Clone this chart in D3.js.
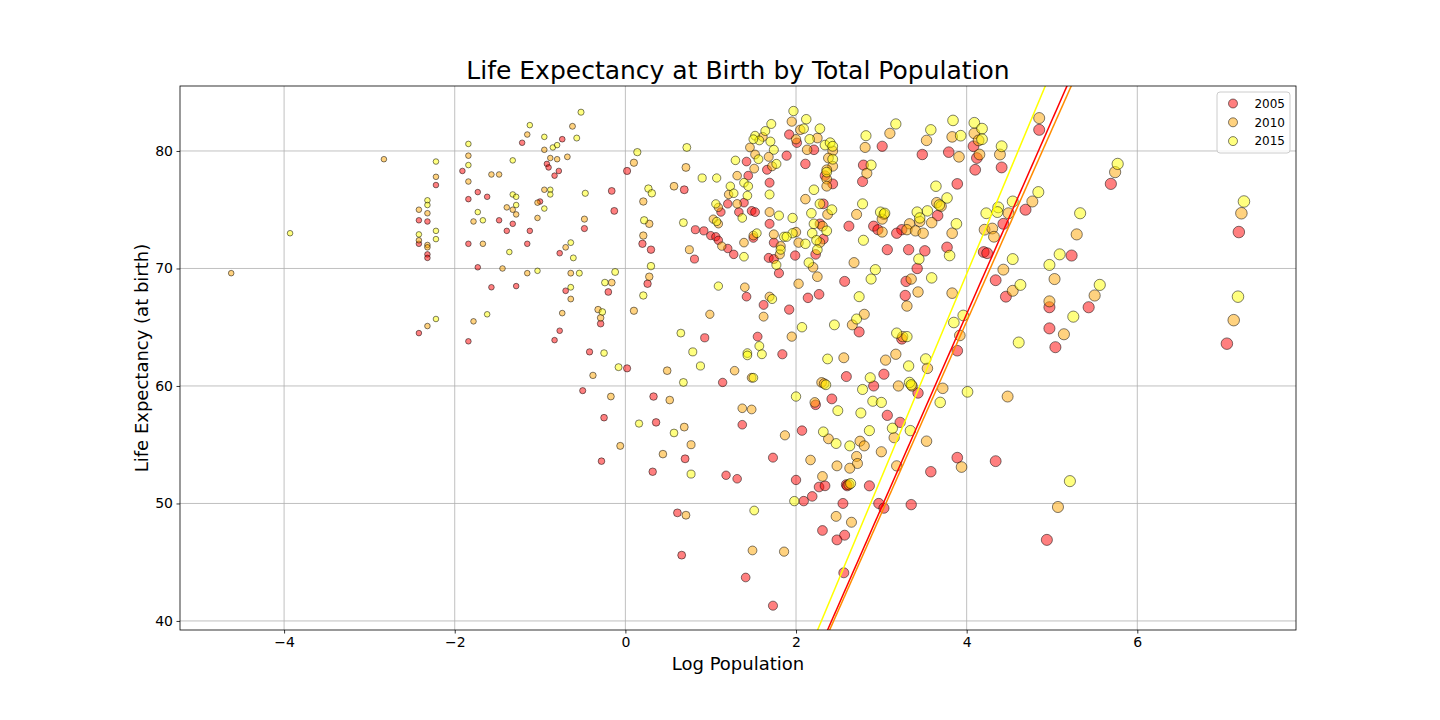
<!DOCTYPE html>
<html>
<head>
<meta charset="utf-8">
<script src="https://cdn.jsdelivr.net/npm/d3@7"></script>
<style>
  body { margin: 0; background: #fff; }
  svg { font-family: "DejaVu Sans", sans-serif; }
  .grid line { stroke: #b0b0b0; stroke-width: 0.8; }
  .tick text { fill: #000; }
</style>
</head>
<body>
<svg id="chart" width="1440" height="720"></svg>
<script>
// log population vs life expectancy, one list of [x, y] per year
var years = ['2005', '2010', '2015'];
var colors = ['red', 'orange', 'yellow'];
var lineColors = ['#ff0000', '#ff8c00', '#ffff00'];

var pts2005 = [
  [-2.22,77.1],[-2.42,74.1],[-2.32,74.0],[-2.42,72.1],[-2.32,71.2],[-2.32,70.9],[-2.42,64.5],[-1.91,78.3],[-1.73,76.5],[-1.84,75.9],
  [-1.84,72.1],[-1.73,70.1],[-1.84,63.8],[-1.62,76.1],[-1.48,74.1],[-1.39,73.2],[-1.32,73.8],[-1.21,80.7],[-1.12,73.2],[-1.15,72.1],
  [-1.57,68.4],[-1.28,68.5],[-0.74,81.0],[-0.92,78.9],[-0.90,78.6],[-0.78,78.3],[-0.83,77.9],[-1.00,75.7],[-0.16,76.6],[-0.13,74.9],
  [-0.48,73.4],[-0.77,71.3],[-0.70,68.1],[-0.20,68.0],[-0.29,65.3],[-0.77,64.7],[-0.83,63.9],[-0.42,62.9],[0.02,78.3],[0.69,76.7],
  [0.20,72.1],[0.30,71.6],[0.81,70.8],[0.82,73.3],[0.92,73.2],[1.00,72.8],[0.26,68.7],[0.93,64.1],[1.20,75.5],[1.12,74.8],
  [1.33,74.8],[1.06,72.7],[1.09,72.4],[1.20,71.7],[1.27,71.2],[1.92,81.4],[2.01,80.7],[1.89,79.6],[2.21,80.1],[2.34,77.9],
  [2.43,77.2],[2.11,78.9],[1.42,79.1],[1.66,78.4],[1.44,77.9],[1.69,77.3],[1.39,75.6],[1.48,74.9],[1.52,74.8],[1.69,73.8],
  [2.32,75.5],[2.28,73.8],[2.32,72.5],[2.23,71.2],[1.74,72.2],[1.68,70.9],[1.74,70.8],[1.99,71.1],[1.80,69.6],[1.50,72.6],
  [1.42,67.6],[1.62,66.9],[1.92,66.5],[2.14,67.5],[2.27,67.8],[1.55,64.2],[1.84,62.7],[3.01,80.4],[2.79,78.8],[2.78,77.4],
  [3.48,79.7],[3.79,79.9],[3.89,77.2],[3.66,74.5],[3.77,71.8],[3.24,73.3],[3.18,73.0],[2.91,73.6],[2.96,73.3],[2.62,73.6],
  [3.07,71.6],[3.32,71.6],[3.51,71.5],[3.42,70.0],[2.57,68.9],[3.29,68.9],[3.28,67.7],[2.74,64.6],[3.24,64.0],[3.89,63.0],
  [4.08,80.4],[4.12,79.4],[4.10,78.4],[4.41,78.6],[4.69,75.0],[4.43,73.8],[4.20,71.4],[4.24,71.3],[4.34,69.0],[4.46,67.6],
  [4.85,81.8],[5.69,77.2],[5.23,71.1],[5.43,66.7],[4.97,66.7],[4.97,64.9],[5.04,63.3],[7.19,73.1],[7.05,63.6],[0.02,61.5],
  [-0.50,59.6],[-0.25,57.3],[-0.28,53.6],[1.14,60.3],[0.33,59.1],[0.36,56.9],[1.37,56.7],[0.70,53.8],[0.32,52.7],[1.18,52.4],
  [1.31,52.1],[0.61,49.2],[0.66,45.6],[1.41,43.7],[2.59,60.8],[2.23,58.4],[2.42,58.9],[2.07,56.2],[1.73,53.9],[2.00,52.0],
  [2.27,51.4],[2.34,51.5],[2.59,51.6],[2.60,51.5],[2.86,51.5],[2.19,50.6],[2.09,50.2],[2.55,50.0],[2.31,47.7],[2.48,46.9],
  [2.57,47.3],[2.56,44.1],[1.73,41.3],[3.03,61.0],[2.91,60.0],[3.43,59.4],[3.07,57.5],[3.22,56.9],[3.89,53.9],[4.34,53.6],
  [3.58,52.7],[2.97,50.0],[3.03,49.6],[3.35,49.9],[4.94,46.9]
];

var pts2010 = [
  [-4.62,69.6],[-2.83,79.3],[-2.22,77.8],[-2.42,75.0],[-2.32,74.7],[-2.42,72.4],[-2.32,72.0],[-2.32,71.8],[-2.32,65.1],[-1.84,79.6],
  [-1.84,77.4],[-1.78,74.0],[-1.78,65.5],[-1.57,78.0],[-1.48,78.0],[-1.39,75.2],[-1.32,75.0],[-1.28,74.6],[-1.15,81.4],[-1.67,72.1],
  [-1.44,70.0],[-1.15,69.6],[-0.95,80.1],[-0.62,82.1],[-0.88,79.4],[-0.80,79.3],[-0.68,79.5],[-0.95,76.7],[-1.03,75.6],[-1.03,74.3],
  [-0.48,74.2],[-0.70,71.8],[-0.64,69.6],[-0.64,67.4],[-0.16,68.8],[-0.74,66.2],[-0.32,66.5],[-0.29,65.8],[0.10,79.0],[0.71,78.6],
  [0.57,77.0],[0.21,75.7],[0.28,73.8],[0.21,72.8],[0.75,71.6],[0.28,69.3],[0.10,66.4],[0.99,66.1],[1.31,77.9],[1.21,76.3],
  [1.09,75.2],[1.31,75.5],[1.03,74.2],[1.09,73.8],[1.13,71.9],[1.95,82.5],[2.05,81.8],[1.61,81.2],[2.00,81.0],[2.25,81.1],
  [1.46,80.3],[2.13,80.1],[2.43,80.0],[2.38,79.4],[2.43,78.7],[2.36,78.4],[2.36,77.6],[2.36,77.0],[1.52,79.7],[1.68,79.5],
  [1.72,78.7],[1.51,78.5],[1.69,74.8],[2.11,75.9],[2.37,74.6],[2.31,73.6],[2.28,72.2],[2.20,70.1],[2.00,73.1],[1.74,72.9],
  [1.82,71.9],[1.81,71.2],[2.03,72.2],[2.25,69.3],[1.50,72.8],[1.39,72.2],[1.40,68.4],[1.69,67.6],[1.62,65.9],[2.03,68.7],
  [1.95,64.2],[2.81,80.3],[3.10,81.5],[2.83,78.1],[3.53,80.9],[3.83,81.2],[3.91,79.5],[3.65,75.6],[3.70,75.3],[3.59,73.9],
  [3.83,73.0],[3.45,74.0],[3.33,73.8],[3.30,73.3],[3.40,73.2],[3.49,73.0],[3.03,74.6],[3.01,74.2],[3.01,73.1],[2.71,74.6],
  [2.68,70.5],[3.35,69.1],[3.43,68.0],[3.30,66.8],[3.83,67.9],[2.80,66.1],[2.66,65.2],[3.25,64.2],[3.92,64.3],[4.09,81.5],
  [4.14,80.9],[4.15,79.7],[4.39,79.7],[4.77,75.7],[4.49,74.7],[4.21,73.3],[4.30,73.4],[4.32,72.7],[4.43,69.9],[4.54,68.1],
  [4.85,82.8],[5.74,78.2],[5.29,72.9],[5.03,69.1],[5.50,67.7],[4.97,67.2],[5.14,64.4],[7.22,74.7],[7.13,65.6],[-0.38,60.9],
  [-0.17,59.1],[-0.06,54.9],[0.49,61.3],[1.28,61.3],[1.48,60.7],[0.52,58.8],[0.69,56.5],[1.37,58.1],[1.48,58.0],[0.77,55.0],
  [0.44,54.2],[0.71,49.0],[1.49,46.0],[2.56,62.4],[2.30,60.3],[2.33,60.2],[2.22,58.6],[1.87,55.8],[2.38,55.5],[2.75,55.3],
  [2.80,54.9],[2.71,54.0],[2.72,53.4],[2.63,53.0],[2.48,53.2],[2.17,53.7],[2.31,52.3],[2.62,51.6],[2.47,48.9],[2.65,48.4],
  [1.86,45.9],[3.05,62.2],[3.17,62.7],[3.54,61.5],[3.20,60.0],[3.36,60.0],[3.15,55.6],[3.00,54.4],[3.18,53.2],[3.72,59.8],
  [4.48,59.1],[3.53,55.3],[3.94,53.1],[5.07,49.7]
];

var pts2015 = [
  [-3.93,73.0],[-2.22,79.1],[-2.32,75.8],[-2.32,75.4],[-2.42,72.9],[-2.22,73.2],[-2.22,72.5],[-2.22,65.7],[-1.84,80.6],[-1.84,78.8],
  [-1.73,74.8],[-1.67,74.1],[-1.32,76.3],[-1.28,76.1],[-1.28,75.4],[-1.32,79.2],[-1.12,82.2],[-1.36,71.4],[-1.03,69.8],[-1.62,66.1],
  [-0.95,81.2],[-0.85,80.3],[-0.80,80.5],[-0.57,81.1],[-0.52,83.3],[-0.88,76.7],[-0.88,76.3],[-0.95,75.1],[-0.47,76.4],[-0.64,72.2],
  [-0.61,70.9],[-0.12,69.7],[-0.54,69.6],[-0.64,68.4],[-0.24,68.8],[-0.27,66.3],[-0.25,62.8],[0.14,79.9],[0.72,80.3],[0.90,77.7],
  [1.07,77.7],[0.27,76.8],[0.31,76.4],[0.22,74.1],[0.68,73.9],[0.30,70.2],[0.21,67.7],[1.09,68.5],[0.65,64.5],[0.79,62.9],
  [1.29,79.2],[1.23,77.0],[1.27,76.4],[1.06,75.5],[1.07,74.0],[1.97,83.4],[1.71,82.3],[2.12,82.7],[2.09,81.9],[2.28,81.9],
  [1.52,81.3],[1.64,81.7],[1.57,80.9],[1.50,81.0],[1.70,80.8],[2.16,81.0],[1.74,80.1],[2.34,80.5],[2.40,80.7],[2.43,80.4],
  [2.43,79.3],[2.36,78.2],[1.56,79.3],[1.77,78.9],[1.39,77.3],[1.44,77.0],[1.69,76.3],[1.43,76.2],[1.37,74.3],[1.80,74.5],
  [1.96,74.3],[2.21,76.7],[2.28,75.5],[2.42,75.0],[2.18,74.7],[2.21,73.8],[2.19,73.0],[2.36,73.2],[2.24,72.4],[2.25,71.6],
  [2.15,70.5],[1.96,73.0],[1.86,72.7],[1.89,72.7],[1.82,71.6],[1.77,70.3],[2.11,72.1],[1.54,73.0],[1.39,71.0],[1.72,67.4],
  [2.07,65.0],[1.57,63.4],[1.43,62.8],[1.60,62.7],[2.82,81.3],[3.17,82.3],[2.88,78.8],[3.58,81.8],[3.84,82.6],[3.93,81.3],
  [3.64,77.0],[3.77,76.0],[3.88,73.8],[3.80,71.1],[3.54,74.9],[3.42,74.8],[3.45,74.3],[2.99,74.8],[3.04,74.7],[2.78,75.5],
  [2.79,72.4],[3.44,70.8],[2.93,69.9],[2.88,69.1],[3.59,69.2],[2.74,67.6],[2.71,65.7],[2.45,65.2],[3.18,64.5],[3.30,64.2],
  [3.96,66.0],[3.85,65.4],[3.68,75.4],[4.09,82.4],[4.18,81.9],[4.18,81.0],[4.41,80.4],[4.84,76.5],[4.54,75.7],[4.37,75.2],
  [4.36,74.8],[4.23,74.7],[4.54,70.8],[4.63,68.6],[4.61,63.7],[5.77,78.9],[5.33,74.7],[5.09,71.2],[4.97,70.3],[5.56,68.6],
  [5.25,65.9],[7.25,75.7],[7.18,67.6],[-0.08,61.6],[0.88,61.7],[0.68,60.3],[1.43,62.6],[1.50,60.7],[0.16,56.8],[0.57,56.0],
  [0.77,52.5],[1.51,49.4],[2.37,62.3],[2.35,60.1],[2.00,59.1],[2.49,57.9],[2.32,56.1],[2.47,55.1],[2.63,54.9],[2.64,51.7],
  [1.98,50.2],[2.87,60.7],[2.78,59.7],[3.32,61.7],[3.52,62.3],[3.33,60.3],[3.35,60.1],[2.90,58.7],[3.00,58.6],[2.76,57.7],
  [3.13,56.4],[2.86,56.2],[3.34,56.2],[3.69,58.6],[4.01,59.5],[5.21,51.9]
];

// fitted lines y = slope * x + intercept, one per year
var slopes = [16.5, 16.35, 17.35];
var intercepts = [0.13, 0.09, 0.14];

var xTicks = [-4, -2, 0, 2, 4, 6];
var yTicks = [40, 50, 60, 70, 80];

var series = [pts2005, pts2010, pts2015];

var svg = d3.select('#chart');

var margin = {left: 180, right: 144, top: 86, bottom: 90},
    width = 1440 - margin.left - margin.right,
    height = 720 - margin.top - margin.bottom;

var x = d3.scaleLinear().domain([-5.22, 7.86]).range([0, width]);
var y = d3.scaleLinear().domain([39.23, 85.53]).range([height, 0]);

// marker radius grows with population, flat for the small ones
var r = d3.scaleLinear()
    .domain([-5, -0.8, 0, 1.3, 2.5, 4.5, 7.3])
    .range([2.8, 2.8, 3.6, 4.3, 5.0, 5.5, 5.8])
    .clamp(true);

var g = svg.append('g')
    .attr('transform', 'translate(' + margin.left + ',' + margin.top + ')');

g.append('defs').append('clipPath')
    .attr('id', 'plot-clip')
  .append('rect')
    .attr('width', width)
    .attr('height', height);

// grid
var grid = g.append('g').attr('class', 'grid');

grid.selectAll('line.v')
    .data(xTicks)
  .enter().append('line')
    .attr('class', 'v')
    .attr('x1', function(d) { return x(d); })
    .attr('x2', function(d) { return x(d); })
    .attr('y1', 0)
    .attr('y2', height);

grid.selectAll('line.h')
    .data(yTicks)
  .enter().append('line')
    .attr('class', 'h')
    .attr('x1', 0)
    .attr('x2', width)
    .attr('y1', function(d) { return y(d); })
    .attr('y2', function(d) { return y(d); });

var plot = g.append('g').attr('clip-path', 'url(#plot-clip)');

series.forEach(function(pts, i) {
  plot.append('g')
      .selectAll('circle')
      .data(pts)
    .enter().append('circle')
      .attr('cx', function(d) { return x(d[0]); })
      .attr('cy', function(d) { return y(d[1]); })
      .attr('r', function(d) { return r(d[0]); })
      .attr('fill', colors[i])
      .attr('fill-opacity', 0.5)
      .attr('stroke', 'black')
      .attr('stroke-opacity', 0.5)
      .attr('stroke-width', 1);
});

var xDom = x.domain();
slopes.forEach(function(m, i) {
  var b = intercepts[i];
  plot.append('line')
      .attr('x1', x(xDom[0]))
      .attr('y1', y(m * xDom[0] + b))
      .attr('x2', x(xDom[1]))
      .attr('y2', y(m * xDom[1] + b))
      .attr('stroke', lineColors[i])
      .attr('stroke-width', 1.5);
});

// axes
var fmt = function(d) { return d < 0 ? '\u2212' + Math.abs(d) : String(d); };

var xAxis = g.append('g')
    .attr('transform', 'translate(0,' + height + ')')
    .call(d3.axisBottom(x).tickValues(xTicks).tickFormat(fmt).tickSize(3.5).tickPadding(3.5));

var yAxis = g.append('g')
    .call(d3.axisLeft(y).tickValues(yTicks).tickSize(3.5).tickPadding(3.5));

[xAxis, yAxis].forEach(function(a) {
  a.select('.domain').remove();
  a.selectAll('.tick line').attr('stroke', '#000').attr('stroke-width', 0.8);
  a.selectAll('.tick text')
      .style('font-family', '"DejaVu Sans", sans-serif')
      .style('font-size', '14px');
});

g.append('rect')
    .attr('width', width)
    .attr('height', height)
    .attr('fill', 'none')
    .attr('stroke', '#000')
    .attr('stroke-width', 0.8);

// labels
svg.append('text')
    .attr('x', margin.left + width / 2)
    .attr('y', 79)
    .attr('text-anchor', 'middle')
    .style('font-size', '25px')
    .text('Life Expectancy at Birth by Total Population');

svg.append('text')
    .attr('x', margin.left + width / 2)
    .attr('y', 670)
    .attr('text-anchor', 'middle')
    .style('font-size', '18px')
    .text('Log Population');

svg.append('text')
    .attr('transform', 'translate(148,' + (margin.top + height / 2) + ') rotate(-90)')
    .attr('text-anchor', 'middle')
    .style('font-size', '18px')
    .text('Life Expectancy (at birth)');

// legend
var legend = g.append('g')
    .attr('transform', 'translate(' + (width - 79) + ',6)');

legend.append('rect')
    .attr('width', 73)
    .attr('height', 61)
    .attr('rx', 3)
    .attr('fill', '#fff')
    .attr('fill-opacity', 0.8)
    .attr('stroke', '#ccc')
    .attr('stroke-width', 1);

years.forEach(function(yr, i) {
  var row = legend.append('g')
      .attr('transform', 'translate(0,' + (11.5 + i * 18.8) + ')');
  row.append('circle')
      .attr('cx', 16)
      .attr('r', 4.5)
      .attr('fill', colors[i])
      .attr('fill-opacity', 0.5)
      .attr('stroke', 'black')
      .attr('stroke-opacity', 0.5);
  row.append('text')
      .attr('x', 68)
      .attr('dy', '0.35em')
      .attr('text-anchor', 'end')
      .style('font-size', '12px')
      .text(yr);
});
</script>
</body>
</html>
